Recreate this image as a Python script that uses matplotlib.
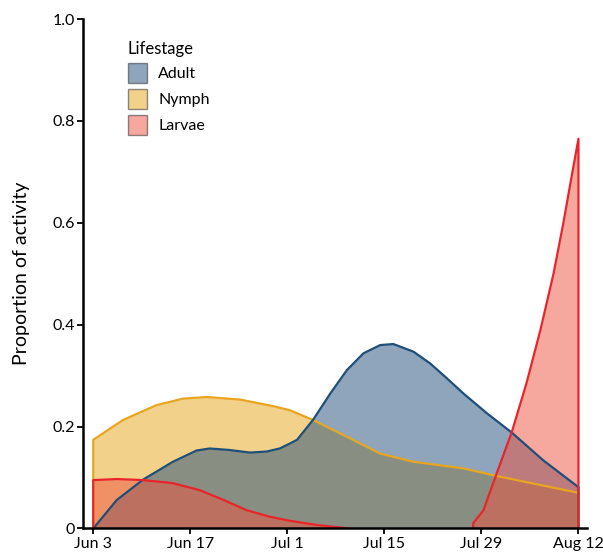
import matplotlib
matplotlib.use('Agg')
import matplotlib.pyplot as plt
from matplotlib.patches import Patch

# days since Jun 3 and proportion of activity
adult_days = [0, 3.4, 7.2, 11.5, 14.9, 16.8, 19.7, 22.6, 25.0, 26.9, 28.4, 29.4, 31.7,
              34.2, 36.6, 39.0, 41.4, 43.3, 46.2, 48.6, 51.0, 53.4, 56.8, 60.4, 64.9,
              70.0]
adult_vals = [0.0, 0.056, 0.096, 0.131, 0.153, 0.157, 0.154, 0.149, 0.151, 0.157, 0.167,
              0.174, 0.213, 0.265, 0.311, 0.344, 0.360, 0.362, 0.347, 0.324, 0.295,
              0.265, 0.226, 0.188, 0.134, 0.081]

nymph_days = [0, 4.3, 9.1, 13.0, 16.4, 21.2, 26.0, 28.4, 31.7, 36.6, 41.4, 46.2, 53.4,
              58.2, 70.0]
nymph_vals = [0.174, 0.213, 0.242, 0.255, 0.258, 0.253, 0.240, 0.232, 0.213, 0.180,
              0.147, 0.131, 0.118, 0.103, 0.070]

larvae_early_days = [0, 3.4, 7.2, 11.5, 15.4, 18.8, 22.1, 25.5, 28.4, 32.2, 37.0]
larvae_early_vals = [0.095, 0.097, 0.095, 0.089, 0.075, 0.056, 0.036, 0.023, 0.015,
                     0.007, 0.0]
larvae_late_days = [54.8, 56.3, 58.2, 60.4, 62.5, 64.5, 66.4, 67.8, 69.0, 70.0]
larvae_late_vals = [0.01, 0.036, 0.108, 0.190, 0.285, 0.389, 0.500, 0.598, 0.690, 0.765]

tick_days = [0, 14, 28, 42, 56, 70]
tick_labels = ['Jun 3', 'Jun 17', 'Jul 1', 'Jul 15', 'Jul 29', 'Aug 12']

colors = {'Adult': '#1f4d7b', 'Nymph': '#e7a719', 'Larvae': '#ee5240'}
line_colors = {'Adult': '#1f4e79', 'Nymph': '#e8a520', 'Larvae': '#e8252a'}

plt.rcParams['font.family'] = ['Lato', 'DejaVu Sans']

fig = plt.figure(figsize=(6.03, 5.56), dpi=100)
ax = fig.add_axes([0.1381, 0.0495, 0.835, 0.9163])


def draw(days, vals, name):
    ax.fill_between(days, 0, vals, color=colors[name], alpha=0.5, lw=0)
    xs = [days[0]] + days + [days[-1]]
    ys = [0] + vals + [0]
    ax.plot(xs, ys, color=line_colors[name], lw=1.6, solid_joinstyle='round')


draw(nymph_days, nymph_vals, 'Nymph')
draw(adult_days, adult_vals, 'Adult')
draw(larvae_early_days, larvae_early_vals, 'Larvae')
draw(larvae_late_days, larvae_late_vals, 'Larvae')

ax.set_xlim(-1.44, 71.2)
ax.set_ylim(0, 1.0)
ax.set_xticks(tick_days)
ax.set_xticklabels(tick_labels)
ax.set_yticks([0, 0.2, 0.4, 0.6, 0.8, 1.0])
ax.set_yticklabels(['0', '0.2', '0.4', '0.6', '0.8', '1.0'])
ax.tick_params(labelsize=11.5, length=4, width=1.3, color='black', pad=2)
for s in ['top', 'right']:
    ax.spines[s].set_visible(False)
for s in ['left', 'bottom']:
    ax.spines[s].set_linewidth(1.8)
ax.set_ylabel('Proportion of activity', fontsize=14, labelpad=16)

handles = [Patch(facecolor=colors[n], alpha=0.5, edgecolor='#222222', lw=1.0)
           for n in ['Adult', 'Nymph', 'Larvae']]
for h in handles:
    h.set_edgecolor('#222222')
leg = ax.legend(handles, ['Adult', 'Nymph', 'Larvae'], title='Lifestage',
                loc='upper left', bbox_to_anchor=(0.06, 0.985), frameon=False,
                fontsize=11.5, title_fontsize=12, handlelength=1.2,
                handleheight=1.6, handletextpad=0.7, labelspacing=0.35)
leg._legend_box.align = 'left'

fig.savefig('out.png', dpi=100)
